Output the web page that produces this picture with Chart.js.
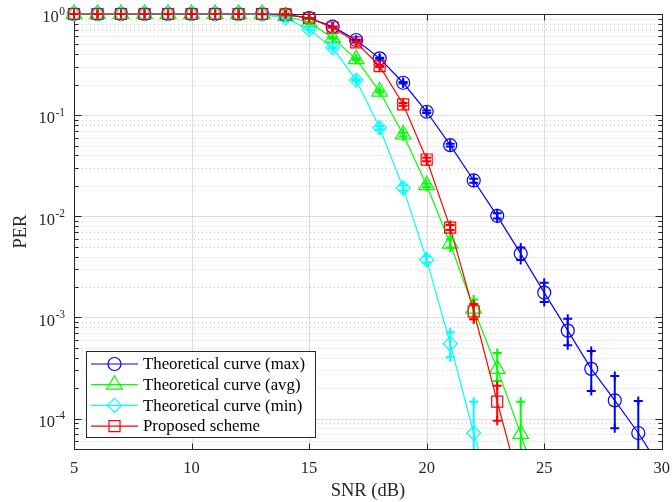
<!DOCTYPE html>
<html>
<head>
<meta charset="utf-8">
<script src="https://cdn.jsdelivr.net/npm/chart.js@4.4.0/dist/chart.umd.min.js"></script>
<style>
  html, body { margin: 0; padding: 0; background: #fff; overflow: hidden; }
  #wrap { position: relative; width: 672px; height: 502px; }
</style>
</head>
<body>
<div id="wrap"><canvas id="per-chart"></canvas></div>
<script>
// --- SNR points (dB) ---
const snr = [5, 6, 7, 8, 9, 10, 11, 12, 13, 14, 15, 16, 17, 18, 19, 20, 21, 22, 23, 24, 25, 26, 27, 28, 29, 30];

// --- PER per curve ---
const perMax = [1, 1, 1, 1, 1, 1, 1, 1, 1, 0.985, 0.91, 0.75, 0.553, 0.364, 0.209, 0.108, 0.0505, 0.0226, 0.0101, 0.00427, 0.00176, 7.4e-4, 3.1e-4, 1.51e-4, 7.2e-5, 3.1e-5];
const perAvg = [1, 1, 1, 1, 1, 1, 1, 1, 1, 0.95, 0.83, 0.58, 0.358, 0.171, 0.0644, 0.0203, 0.00537, 0.00122, 3.1e-4, 7.05e-5, 1.4e-5, null, null, null, null, null];
const perMin = [1, 1, 1, 1, 1, 1, 1, 1, 0.99, 0.91, 0.70, 0.465, 0.222, 0.075, 0.0191, 0.00372, 5.5e-4, 7.2e-5, 1.1e-5, null, null, null, null, null, null, null];
const perProposed = [1, 1, 1, 1, 1, 1, 1, 1, 1, 0.99, 0.91, 0.735, 0.525, 0.305, 0.128, 0.0364, 0.00773, 0.00115, 1.47e-4, 2e-5, null, null, null, null, null, null];

// --- confidence bounds (lower / upper) ---
const maxLow = [1, 1, 1, 1, 1, 1, 1, 1, 1, 0.985, 0.91, 0.75, 0.55, 0.36, 0.205, 0.105, 0.049, 0.0215, 0.0095, 0.0037, 0.00142, 5.3e-4, 1.87e-4, 8.0e-5, 3e-5, null];
const maxHigh = [1, 1, 1, 1, 1, 1, 1, 1, 1, 0.985, 0.91, 0.75, 0.556, 0.37, 0.213, 0.111, 0.052, 0.0235, 0.0107, 0.0049, 0.0022, 9.7e-4, 4.65e-4, 2.63e-4, 1.49e-4, null];
const avgLow = [1, 1, 1, 1, 1, 1, 1, 1, 1, 0.95, 0.83, 0.57, 0.35, 0.167, 0.062, 0.0195, 0.0049, 9.6e-4, 2.35e-4, 1e-5, null, null, null, null, null, null];
const avgHigh = [1, 1, 1, 1, 1, 1, 1, 1, 1, 0.95, 0.83, 0.59, 0.365, 0.175, 0.067, 0.021, 0.0059, 1.5e-3, 4.45e-4, 1.47e-4, null, null, null, null, null, null];
const minLow = [1, 1, 1, 1, 1, 1, 1, 1, 0.99, 0.91, 0.70, 0.46, 0.218, 0.072, 0.018, 0.0035, 4.03e-4, 1e-5, null, null, null, null, null, null, null, null];
const minHigh = [1, 1, 1, 1, 1, 1, 1, 1, 0.99, 0.91, 0.70, 0.47, 0.226, 0.078, 0.0202, 0.0040, 7.13e-4, 1.47e-4, null, null, null, null, null, null, null, null];
const propLow = [1, 1, 1, 1, 1, 1, 1, 1, 1, 0.99, 0.91, 0.735, 0.52, 0.30, 0.124, 0.035, 0.0073, 9.6e-4, 9.5e-5, null, null, null, null, null, null, null];
const propHigh = [1, 1, 1, 1, 1, 1, 1, 1, 1, 0.99, 0.91, 0.735, 0.53, 0.31, 0.132, 0.038, 0.0082, 1.36e-3, 2.11e-4, null, null, null, null, null, null, null];

const seriesLabels = ['Theoretical curve (max)', 'Theoretical curve (avg)', 'Theoretical curve (min)', 'Proposed scheme'];
const xTicks = [5, 10, 15, 20, 25, 30];
const yDecades = [-4, -3, -2, -1, 0];

const FONT = '"Liberation Serif", "Times New Roman", serif';
const AXIS_COLOR = '#262626';

const curves = [
  { label: seriesLabels[0], values: perMax, low: maxLow, high: maxHigh, color: '#0000ff', style: 'circle', radius: 6.5, order: 4 },
  { label: seriesLabels[1], values: perAvg, low: avgLow, high: avgHigh, color: '#00ff00', style: 'triangle', radius: 9, order: 3 },
  { label: seriesLabels[2], values: perMin, low: minLow, high: minHigh, color: '#00ffff', style: 'rectRot', radius: 7, order: 2 },
  { label: seriesLabels[3], values: perProposed, low: propLow, high: propHigh, color: '#ff0000', style: 'rect', radius: 7.8, order: 1 }
];

function drawMarker(ctx, style, radius, x, y) {
  if (Chart.helpers && Chart.helpers.drawPoint) {
    Chart.helpers.drawPoint(ctx, { pointStyle: style, radius: radius, rotation: 0, borderWidth: ctx.lineWidth }, x, y);
  }
}

function drawPlus(ctx, x, y, r) {
  ctx.beginPath();
  ctx.moveTo(x - r, y); ctx.lineTo(x + r, y);
  ctx.moveTo(x, y - r); ctx.lineTo(x, y + r);
  ctx.stroke();
}

// grid, box and inward ticks, drawn under the curves
const axesFrame = {
  id: 'axesFrame',
  beforeDatasetsDraw(chart) {
    const { ctx, chartArea: a, scales: { x, y } } = chart;
    const yMin = y.min, yMax = y.max;
    ctx.save();
    ctx.lineWidth = 1;

    // y grid: decades solid, the rest dotted
    for (let d = -5; d <= 0; d++) {
      for (let k = 1; k <= 9; k++) {
        const v = k * Math.pow(10, d);
        if (v < yMin * 0.999 || v > yMax * 1.001) continue;
        const py = Math.round(y.getPixelForValue(v)) + 0.5;
        ctx.beginPath();
        if (k === 1) {
          ctx.setLineDash([]);
          ctx.strokeStyle = 'rgba(0,0,0,0.13)';
        } else {
          ctx.setLineDash([1, 3]);
          ctx.strokeStyle = 'rgba(0,0,0,0.22)';
        }
        ctx.moveTo(a.left, py);
        ctx.lineTo(a.right, py);
        ctx.stroke();
      }
    }
    ctx.setLineDash([]);
    ctx.strokeStyle = 'rgba(0,0,0,0.13)';
    xTicks.forEach(t => {
      const px = Math.round(x.getPixelForValue(t)) + 0.5;
      ctx.beginPath();
      ctx.moveTo(px, a.top);
      ctx.lineTo(px, a.bottom);
      ctx.stroke();
    });

    // box
    ctx.strokeStyle = AXIS_COLOR;
    const L = Math.round(a.left) + 0.5, R = Math.round(a.right) + 0.5;
    const T = Math.round(a.top) + 0.5, B = Math.round(a.bottom) + 0.5;
    ctx.strokeRect(L, T, R - L, B - T);

    // ticks pointing inward
    ctx.beginPath();
    xTicks.forEach(t => {
      const px = Math.round(x.getPixelForValue(t)) + 0.5;
      ctx.moveTo(px, B); ctx.lineTo(px, B - 6);
      ctx.moveTo(px, T); ctx.lineTo(px, T + 6);
    });
    for (let d = -5; d <= 0; d++) {
      for (let k = 1; k <= 9; k++) {
        const v = k * Math.pow(10, d);
        if (v < yMin * 0.999 || v > yMax * 1.001) continue;
        const py = Math.round(y.getPixelForValue(v)) + 0.5;
        const len = k === 1 ? 7 : 4;
        ctx.moveTo(L, py); ctx.lineTo(L + len, py);
        ctx.moveTo(R, py); ctx.lineTo(R - len, py);
      }
    }
    ctx.stroke();
    ctx.restore();
  },

  // error bars: vertical span with a plus at each bound
  afterDatasetsDraw(chart) {
    const { ctx, chartArea: a, scales: { x, y } } = chart;
    ctx.save();
    ctx.beginPath();
    ctx.rect(a.left - 20, a.top - 20, a.right - a.left + 40, a.bottom - a.top + 20);
    ctx.clip();
    ctx.lineWidth = 2;
    curves.forEach(c => {
      ctx.strokeStyle = c.color;
      snr.forEach((s, i) => {
        if (c.low[i] == null || c.high[i] == null) return;
        const px = x.getPixelForValue(s);
        const pLo = y.getPixelForValue(c.low[i]);
        const pHi = y.getPixelForValue(c.high[i]);
        ctx.beginPath();
        ctx.moveTo(px, pHi);
        ctx.lineTo(px, pLo);
        ctx.stroke();
        drawPlus(ctx, px, pHi, 4.5);
        drawPlus(ctx, px, pLo, 4.5);
      });
    });
    ctx.restore();
  },

  afterDraw(chart) {
    const { ctx, scales: { y } } = chart;
    ctx.save();
    // y tick labels as 10 with raised exponent
    ctx.fillStyle = AXIS_COLOR;
    ctx.textAlign = 'left';
    ctx.textBaseline = 'alphabetic';
    const right = 65;
    yDecades.forEach(e => {
      const py = y.getPixelForValue(Math.pow(10, e));
      const sup = String(e);
      ctx.font = '11.5px ' + FONT;
      const ws = ctx.measureText(sup).width;
      ctx.font = '16.5px ' + FONT;
      const wb = ctx.measureText('10').width;
      ctx.fillText('10', right - ws - wb - 0.5, py + 8.3);
      ctx.font = '11.5px ' + FONT;
      ctx.fillText(sup, right - ws, py + 0.8);
    });

    // legend box
    const box = { left: 86.5, top: 351.5, width: 229, height: 86 };
    ctx.fillStyle = '#ffffff';
    ctx.fillRect(box.left, box.top, box.width, box.height);
    ctx.strokeStyle = AXIS_COLOR;
    ctx.lineWidth = 1;
    ctx.strokeRect(box.left, box.top, box.width, box.height);
    curves.forEach((c, i) => {
      const ry = 364 + i * 20.7;
      ctx.strokeStyle = c.color;
      ctx.lineWidth = 1.2;
      ctx.beginPath();
      ctx.moveTo(91, ry);
      ctx.lineTo(138, ry);
      ctx.stroke();
      ctx.fillStyle = 'rgba(0,0,0,0)';
      drawMarker(ctx, c.style, c.radius, 114.5, ry);
      ctx.fillStyle = '#000000';
      ctx.font = '16.8px ' + FONT;
      ctx.textBaseline = 'middle';
      ctx.fillText(c.label, 143, ry + 1);
    });
    ctx.restore();
  }
};

const datasets = curves.map(c => ({
  label: c.label,
  data: snr.map((s, i) => ({ x: s, y: c.values[i] })),
  borderColor: c.color,
  borderWidth: 1.2,
  pointStyle: c.style,
  pointRadius: c.radius,
  pointBorderColor: c.color,
  pointBackgroundColor: 'rgba(0,0,0,0)',
  pointBorderWidth: 1.2,
  tension: 0,
  order: c.order,
  clip: { left: 20, top: 20, right: 20, bottom: 0 }
}));

new Chart(document.getElementById('per-chart'), {
  type: 'line',
  data: { datasets: datasets },
  options: {
    responsive: true,
    maintainAspectRatio: false,
    animation: false,
    events: [],
    layout: { padding: { top: 14, right: 6, left: 0, bottom: 0 } },
    plugins: { legend: { display: false }, tooltip: { enabled: false } },
    scales: {
      x: {
        type: 'linear',
        min: 5,
        max: 30,
        afterBuildTicks: scale => { scale.ticks = xTicks.map(v => ({ value: v })); },
        ticks: { color: AXIS_COLOR, font: { family: FONT, size: 16.5 }, padding: 10, maxRotation: 0 },
        grid: { display: false, drawTicks: false },
        border: { display: false },
        title: { display: true, text: 'SNR (dB)', color: AXIS_COLOR, font: { family: FONT, size: 18.5 }, padding: { top: 0, bottom: 0 } },
        afterFit: scale => { scale.height = 53; scale.paddingLeft = 0; scale.paddingRight = 0; }
      },
      y: {
        type: 'logarithmic',
        min: 5e-5,
        max: 1,
        ticks: { display: false },
        grid: { display: false, drawTicks: false },
        border: { display: false },
        title: { display: true, text: 'PER', color: AXIS_COLOR, font: { family: FONT, size: 18.5 }, padding: { top: 10.5, bottom: 0 } },
        afterFit: scale => { scale.width = 74; scale.paddingTop = 0; scale.paddingBottom = 0; }
      }
    }
  },
  plugins: [axesFrame]
});
</script>
</body>
</html>
